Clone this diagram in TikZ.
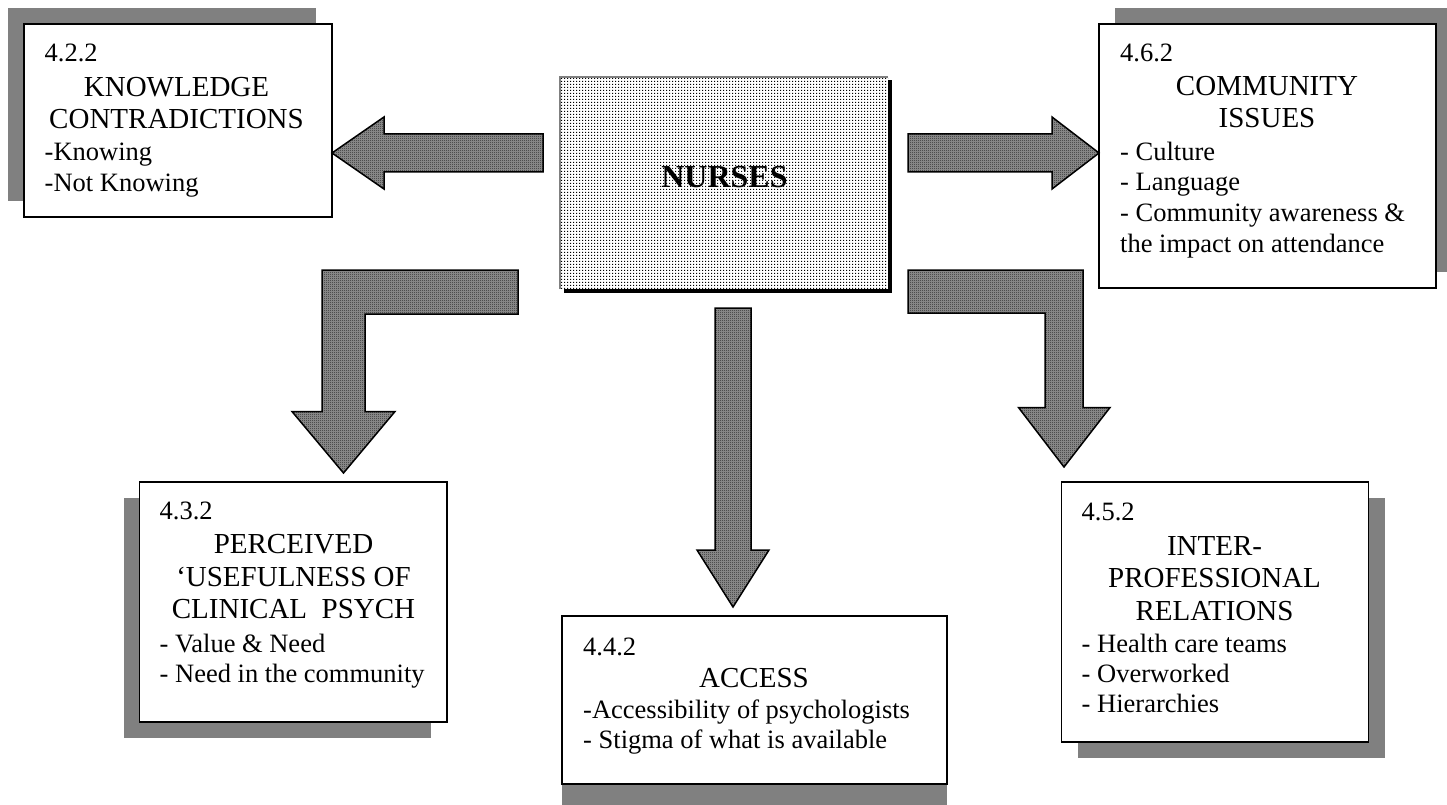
\documentclass[tikz,border=0pt]{standalone}
\usepackage{fontspec}
\setmainfont{Liberation Serif}
\usetikzlibrary{patterns.meta,backgrounds,calc}
\definecolor{shadegray}{HTML}{808080}
\definecolor{arrowgray}{HTML}{9A9A9A}
\newcommand{\myBodyFont}{\fontsize{26.5}{30}\selectfont}
\newcommand{\myTitleFont}{\fontsize{29}{33}\selectfont}
\newcommand{\myCoreFont}{\fontsize{32}{36}\selectfont\bfseries}
\tikzdeclarepattern{
  name=finechecker,
  type=uncolored,
  bounding box={(0pt,0pt) and (2pt,2pt)},
  tile size={(2pt,2pt)},
  code={\fill (0pt,0pt) rectangle (1pt,1pt); \fill (1pt,1pt) rectangle (2pt,2pt);}
}
\tikzdeclarepattern{
  name=finedots,
  type=uncolored,
  bounding box={(0pt,0pt) and (3pt,3pt)},
  tile size={(3pt,3pt)},
  code={\fill (0pt,0pt) rectangle (1.5pt,1.5pt);}
}
\begin{document}
\begin{tikzpicture}[x=1pt,y=-1pt,
  topicbox/.style={draw=black, line width=1.8pt, fill=white, rectangle,
    inner sep=0pt, outer sep=0pt, anchor=north west},
  blockarrow/.style={draw=black, line width=1.5pt, line join=miter,
    fill=arrowgray, postaction={pattern=finechecker, pattern color=black}},
  bodyline/.style={anchor=base west, inner sep=0pt, font=\myBodyFont},
  titleline/.style={anchor=base, inner sep=0pt, font=\myTitleFont}]
\useasboundingbox (0,0) rectangle (1447,805);
\clip (0,0) rectangle (1447,805);

% central box
\node[rectangle, inner sep=0pt, outer sep=0pt, minimum width=328pt, minimum height=212pt,
  fill=white, postaction={pattern=finedots, pattern color=black}] (nurses) at (724,183) {};
\draw[shadegray, line width=2pt] (nurses.south west) -- (nurses.north west) -- (nurses.north east);
\node[anchor=base, inner sep=0pt, font=\myCoreFont] (nursestxt) at (724.5,187) {NURSES};

% topic boxes
\node[topicbox, minimum width=308pt, minimum height=193pt] (b1) at (24,24) {};
\node[topicbox, minimum width=337pt, minimum height=264pt] (b2) at (1099,24) {};
\node[topicbox, minimum width=307.5pt, minimum height=240pt] (b3) at (139.5,482) {};
\node[topicbox, minimum width=385pt, minimum height=168pt] (b4) at (562,616) {};
\node[topicbox, minimum width=307pt, minimum height=260pt] (b5) at (1061.5,482) {};

\begin{scope}[on background layer]
  \fill[white] (0,0) rectangle (1447,805);
  \fill[shadegray] ($(b1.north west)+(-16,-16)$) rectangle ($(b1.south east)+(-16,-16)$);
  \fill[shadegray] ($(b2.north west)+(16,-16)$) rectangle ($(b2.south east)+(16,-16)$);
  \fill[shadegray] ($(b3.north west)+(-16,16)$) rectangle ($(b3.south east)+(-16,16)$);
  \fill[shadegray] ($(b4.north west)+(0,24)$) rectangle ($(b4.south east)+(0,24)$);
  \fill[shadegray] ($(b5.north west)+(16,16)$) rectangle ($(b5.south east)+(16,16)$);
  \fill[black] ($(nurses.north west)+(3.5,3.5)$) rectangle ($(nurses.south east)+(3.5,3.5)$);
\end{scope}

% texts of box 1
\node[bodyline] (t1a) at (44.5,62) {4.2.2};
\node[titleline] (t1b) at (176.5,97) {KNOWLEDGE};
\node[titleline] (t1c) at (176.5,129) {CONTRADICTIONS};
\node[bodyline] (t1d) at (44.5,161) {-Knowing};
\node[bodyline] (t1e) at (44.5,192) {-Not Knowing};

% texts of box 2
\node[bodyline] (t2a) at (1120,62) {4.6.2};
\node[titleline] (t2b) at (1267,96) {COMMUNITY};
\node[titleline] (t2c) at (1267,128) {ISSUES};
\node[bodyline] (t2d) at (1120,161) {- Culture};
\node[bodyline] (t2e) at (1120,190) {- Language};
\node[bodyline] (t2f) at (1120,221) {- Community awareness \&};
\node[bodyline] (t2g) at (1120,252) {the impact on attendance};

% texts of box 3
\node[bodyline] (t3a) at (159.5,519) {4.3.2};
\node[titleline] (t3b) at (293.5,553) {PERCEIVED};
\node[titleline] (t3c) at (293.5,586.5) {‘USEFULNESS OF};
\node[titleline] (t3d) at (293.5,618) {CLINICAL\ \ PSYCH};
\node[bodyline] (t3e) at (159.5,652) {- Value \& Need};
\node[bodyline] (t3f) at (159.5,682) {- Need in the community};

% texts of box 4
\node[bodyline] (t4a) at (583,655) {4.4.2};
\node[titleline] (t4b) at (754,687) {ACCESS};
\node[bodyline] (t4c) at (583,718) {-Accessibility of psychologists};
\node[bodyline] (t4d) at (583,748) {- Stigma of what is available};

% texts of box 5
\node[bodyline] (t5a) at (1081.5,520) {4.5.2};
\node[titleline] (t5b) at (1214.5,555) {INTER-};
\node[titleline] (t5c) at (1214.5,587) {PROFESSIONAL};
\node[titleline] (t5d) at (1214.5,620) {RELATIONS};
\node[bodyline] (t5e) at (1081.5,652) {- Health care teams};
\node[bodyline] (t5f) at (1081.5,682) {- Overworked};
\node[bodyline] (t5g) at (1081.5,712) {- Hierarchies};

% block arrows from NURSES to the topic boxes
\coordinate (tip1) at (332,153);
\coordinate (tip2) at (1099,153);
\coordinate (tip3) at (343.5,473);
\coordinate (tip4) at (733,607);
\coordinate (tip5) at (1064,467);

\draw[blockarrow] (543,134) -- (384,134) -- (384,117) -- (tip1) -- (384,189) -- (384,172) -- (543,172) -- cycle;
\draw[blockarrow] (908,134) -- (1052,134) -- (1052,117) -- (tip2) -- (1052,189) -- (1052,172) -- (908,172) -- cycle;
\draw[blockarrow] (518,270) -- (322,270) -- (322,411.5) -- (292,411.5) -- (tip3) -- (395,411.5) -- (365,411.5) -- (365,314) -- (518,314) -- cycle;
\draw[blockarrow] (715,308) -- (751,308) -- (751,550) -- (769,550) -- (tip4) -- (697,550) -- (715,550) -- cycle;
\draw[blockarrow] (908,270) -- (1083,270) -- (1083,407.5) -- (1110,407.5) -- (tip5) -- (1018.5,407.5) -- (1045,407.5) -- (1045,313) -- (908,313) -- cycle;
\end{tikzpicture}
\end{document}
